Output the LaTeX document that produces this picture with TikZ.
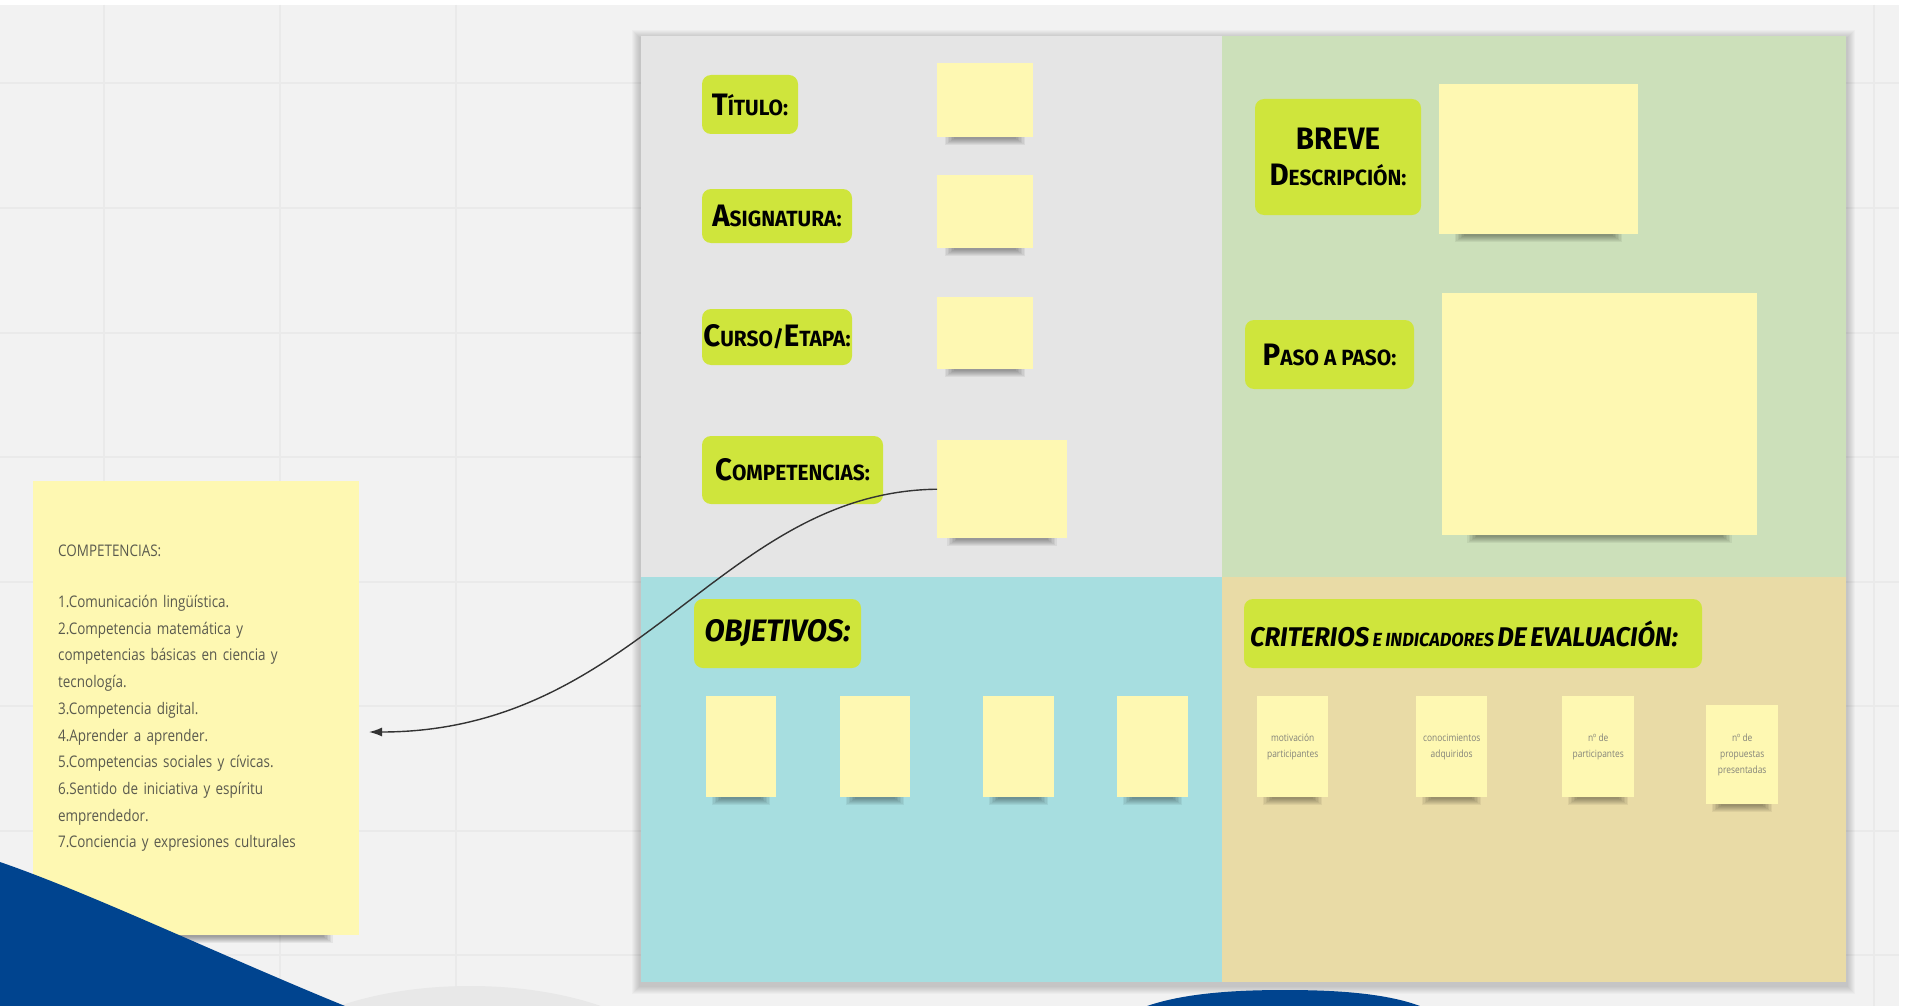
\documentclass[tikz,border=0pt]{standalone}
\usepackage{fontspec}
\setmainfont{Open Sans}
\newfontfamily\labfont{Fira Sans}[FakeStretch=0.95]
\newfontfamily\notefont{Open Sans}[FakeStretch=0.84]
\usetikzlibrary{arrows.meta}
\definecolor{bgc}{HTML}{F2F2F2}
\definecolor{gridc}{HTML}{EAEAEA}
\definecolor{qgray}{HTML}{E5E5E5}
\definecolor{qgreen}{HTML}{CCE0BA}
\definecolor{qcyan}{HTML}{A7DEE0}
\definecolor{qtan}{HTML}{E9DBA6}
\definecolor{lime}{HTML}{CFE53C}
\definecolor{stickyc}{HTML}{FEF8B2}
\definecolor{navy}{HTML}{00448F}
\definecolor{notetext}{HTML}{5A5A4E}
\definecolor{domegray}{HTML}{E8E8E8}
\newcommand\LabBig[1]{{\fontsize{31}{34}\selectfont #1}}
\newcommand\LabSm[1]{{\fontsize{22}{25}\selectfont #1}}
\tikzset{
  lab/.style={fill=lime, rounded corners=9pt, inner sep=0pt, font=\labfont\bfseries, text=black},
  stkst/.style={fill=stickyc, inner sep=0pt, align=center, font=\notefont\fontsize{10}{16}\selectfont, text=notetext!75},
  conn/.style={draw=black!80, line width=1.4pt},
  gridline/.style={draw=gridc, line width=1.2pt},
}
% name, x, y, w, h, text
\newcommand\stk[6]{%
  \foreach \k in {0,1,...,6}{\fill[black,opacity=0.055] (#2+0.08*#4+1.5*\k,#3+#5-10+\k) rectangle (#2+0.92*#4-1.5*\k,#3+#5+8-\k);}
  \node[stkst, minimum width=#4pt, minimum height=#5pt, anchor=north west] (#1) at (#2,#3) {#6};}
\begin{document}
\begin{tikzpicture}[x=1pt,y=-1pt]
\useasboundingbox (0,0) rectangle (1908,1006);
\fill[white] (0,0) rectangle (1908,1006);
\fill[bgc] (0,5) rectangle (1899,1006);
% grid
\foreach \yy in {83,208,333,457,582,706,831,955}{\draw[gridline] (0,\yy) -- (1899,\yy);}
\foreach \xx in {104,280,456,1874}{\draw[gridline] (\xx,5) -- (\xx,1006);}
% board shadow
\foreach \k in {0,1,...,7}{\fill[black,opacity=0.025] (641-9+\k,36-6+\k) rectangle (1846+9-\k,982+12-\k);}
% quadrants
\fill[qgray] (641,36) rectangle (1222,577);
\fill[qgreen] (1222,36) rectangle (1846,577);
\fill[qcyan] (641,577) rectangle (1222,982);
\fill[qtan] (1222,577) rectangle (1846,982);
% labels
\node[lab, minimum width=96pt, minimum height=59pt] (tit) at (750,104.5) {\LabBig{T}\LabSm{ÍTULO:}};
\node[lab, minimum width=150pt, minimum height=54pt] (asig) at (777,216) {\LabBig{A}\LabSm{SIGNATURA:}};
\node[lab, minimum width=150pt, minimum height=56pt] (curso) at (777,337) {\LabBig{C}\LabSm{URSO/}\LabBig{E}\LabSm{TAPA:}};
\node[lab, minimum width=181pt, minimum height=68pt] (comp) at (792.5,470) {\LabBig{C}\LabSm{OMPETENCIAS:}};
\node[lab, minimum width=166pt, minimum height=116pt, align=center] (breve) at (1338,157) {\LabBig{BREVE}\\[14pt]\LabBig{D}\LabSm{ESCRIPCIÓN:}};
\node[lab, minimum width=169pt, minimum height=69pt] (paso) at (1329.5,354.5) {\LabBig{P}\LabSm{ASO A PASO:}};
\node[lab, minimum width=167pt, minimum height=69pt] (obj) at (777.5,633.5) {\itshape\fontsize{31}{33}\selectfont OBJETIVOS:};
\node[lab, text width=446pt, inner xsep=6pt, minimum height=69pt, align=left] (crit) at (1473,633.5) {\itshape\fontsize{27}{30}\selectfont\mbox{CRITERIOS {\fontsize{19}{22}\selectfont E INDICADORES} DE EVALUACIÓN:}};
% stickies
\stk{sTit}{937}{63}{96}{74}{}
\stk{sAsig}{937}{175}{96}{73}{}
\stk{sCurso}{937}{297}{96}{72}{}
\stk{sComp}{937}{440}{130}{98}{}
\stk{sBreve}{1439}{84}{199}{150}{}
\stk{sPaso}{1442}{293}{315}{242}{}
\stk{sO1}{706}{696}{70}{101}{}
\stk{sO2}{840}{696}{70}{101}{}
\stk{sO3}{983}{696}{71}{101}{}
\stk{sO4}{1117}{696}{71}{101}{}
\stk{sC1}{1257}{696}{71}{101}{motivación\\participantes}
\stk{sC2}{1416}{696}{71}{101}{conocimientos\\adquiridos}
\stk{sC3}{1562}{696}{72}{101}{nº de\\participantes}
\stk{sC4}{1706}{705}{72}{99}{nº de\\propuestas\\presentadas}
\stk{sList}{33}{481}{326}{454}{}
\node[anchor=north west, inner sep=0pt, text width=300pt, align=left, font=\notefont\fontsize{16}{26.7}\selectfont, text=notetext] (listtxt) at (58,545) {COMPETENCIAS:\\[24pt]1.Comunicación lingüística.\\2.Competencia matemática y\\competencias básicas en ciencia y\\tecnología.\\3.Competencia digital.\\4.Aprender a aprender.\\5.Competencias sociales y cívicas.\\6.Sentido de iniciativa y espíritu\\emprendedor.\\7.Conciencia y expresiones culturales};
% connector
\coordinate (arrEnd) at (369,732);
\draw[conn, -{Latex[length=13pt,width=9pt]}] (sComp.west) .. controls (720,492) and (640,732) .. (arrEnd);
% bottom decorations
\fill[domegray] (470,1078) ellipse [x radius=210, y radius=92];
\fill[navy] (0,862) .. controls (90,893) and (220,955) .. (345,1006) -- (0,1006) -- cycle;
\fill[navy] (1147,1006) .. controls (1185,993) and (1235,990) .. (1285,990) .. controls (1335,990) and (1385,993) .. (1420,1006) -- cycle;
\end{tikzpicture}
\end{document}
